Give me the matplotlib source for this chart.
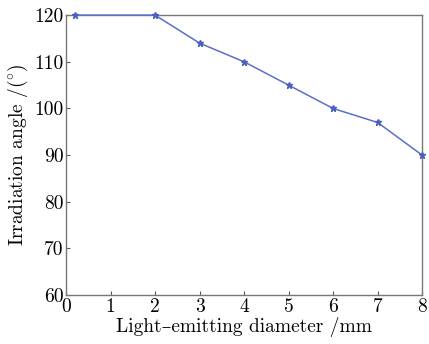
import numpy as np
import matplotlib.pyplot as plt

diameter = [0.2, 2, 3, 4, 5, 6, 7, 8]
angle = [120, 120, 114, 110, 105, 100, 97, 90]

plt.rcParams['font.family'] = ['cmr10', 'DejaVu Serif']
plt.rcParams['mathtext.fontset'] = 'cm'
plt.rcParams['axes.unicode_minus'] = False

fig = plt.figure(figsize=(4.29, 3.44), dpi=100)
ax = fig.add_axes([0.154, 0.142, 0.83, 0.814])

ax.plot(diameter, angle, color='#5a70c8', lw=1.1, marker='*', ms=5,
        mec='#4a60c0', mfc='#4a60c0', clip_on=False, zorder=3)

ax.set_xlim(0, 8)
ax.set_ylim(60, 120)
ax.set_xticks(np.arange(0, 9, 1))
ax.set_yticks(np.arange(60, 121, 10))
ax.tick_params(direction='in', length=3, labelsize=14, color='#555555', pad=2)
for s in ax.spines.values():
    s.set_color('#777777')
    s.set_linewidth(1.0)

ax.set_xlabel('Light\u2013emitting diameter /mm', fontsize=14, labelpad=1)
ax.set_ylabel(r'Irradiation angle /($^{\circ}$)', fontsize=14, labelpad=3)

fig.savefig('out.png', dpi=100)
